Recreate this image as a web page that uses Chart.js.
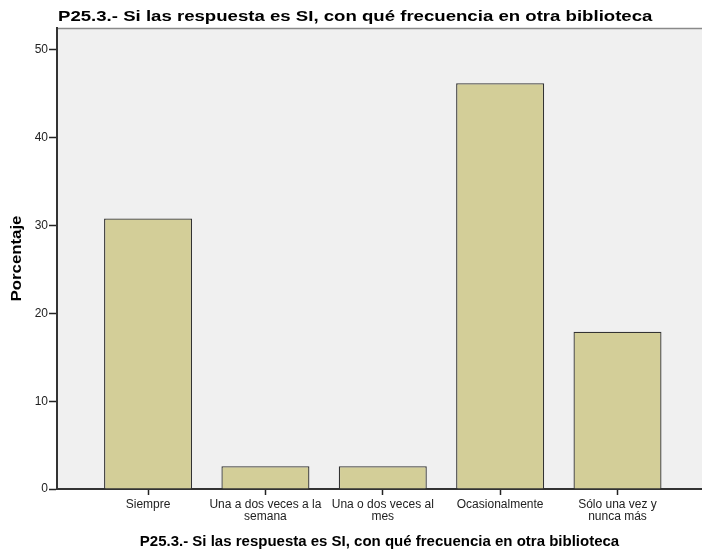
<!DOCTYPE html>
<html>
<head>
<meta charset="utf-8">
<script src="https://cdn.jsdelivr.net/npm/chart.js@4"></script>
<style>
  html, body { margin: 0; padding: 0; background: #fff; }
  #wrap { width: 702px; height: 554px; }
</style>
</head>
<body>
<div id="wrap"><canvas id="chart-frecuencia" width="702" height="554"></canvas></div>
<script>
// Frecuencia de uso de otra biblioteca (porcentaje de respuestas)
const categorias = [
    ['Siempre'],
    ['Una a dos veces a la', 'semana'],
    ['Una o dos veces al', 'mes'],
    ['Ocasionalmente'],
    ['Sólo una vez y', 'nunca más']
];
const porcentajes = [30.8, 2.6, 2.6, 46.2, 17.9];
const ticksY = [0, 10, 20, 30, 40, 50];

const titulo = 'P25.3.- Si las respuesta es SI, con qué frecuencia en otra biblioteca';
const tituloY = 'Porcentaje';
const fuente = "'Liberation Sans', Arial, sans-serif";

// Fondo gris del área de trazado y línea superior (antes de los ejes)
const fondoPlot = {
    id: 'fondoPlot',
    beforeDraw(chart) {
        const { ctx, chartArea: a } = chart;
        ctx.save();
        ctx.fillStyle = '#f0f0f0';
        ctx.fillRect(a.left, a.top, a.right - a.left, a.bottom - a.top);
        ctx.strokeStyle = '#8a8a8a';
        ctx.lineWidth = 1.5;
        ctx.beginPath();
        ctx.moveTo(a.left, a.top + 0.5);
        ctx.lineTo(a.right, a.top + 0.5);
        ctx.stroke();
        ctx.restore();
    }
};

// Título superior y título del eje Y, algo ensanchados como en SPSS
const titulosAnchos = {
    id: 'titulosAnchos',
    afterDraw(chart) {
        const { ctx, chartArea: a } = chart;
        ctx.save();
        ctx.fillStyle = '#000';
        ctx.textBaseline = 'alphabetic';

        ctx.font = 'bold 15px ' + fuente;
        ctx.translate(a.left + 1, 21);
        ctx.scale(1.24, 1);
        ctx.textAlign = 'left';
        ctx.fillText(titulo, 0, 0);
        ctx.restore();

        ctx.save();
        ctx.fillStyle = '#000';
        ctx.font = 'bold 14px ' + fuente;
        ctx.translate(17, (a.top + a.bottom) / 2);
        ctx.rotate(-Math.PI / 2);
        ctx.scale(1.2, 1);
        ctx.textAlign = 'center';
        ctx.textBaseline = 'middle';
        ctx.fillText(tituloY, 0, 0);
        ctx.restore();
    }
};

Chart.defaults.font.family = fuente;
Chart.defaults.color = '#222';

const ctxFrec = document.getElementById('chart-frecuencia').getContext('2d');
new Chart(ctxFrec, {
    type: 'bar',
    data: {
        datasets: [{
            label: tituloY,
            data: porcentajes.map((v, i) => ({ x: i, y: v })),
            backgroundColor: '#d3ce98',
            borderColor: '#333',
            borderWidth: 1.3,
            borderSkipped: 'bottom',
            categoryPercentage: 1,
            barPercentage: 0.75
        }]
    },
    options: {
        responsive: false,
        animation: false,
        layout: { padding: { top: 28, left: 0, right: 0, bottom: 0 } },
        plugins: {
            legend: { display: false },
            tooltip: { enabled: false },
            title: { display: false }
        },
        scales: {
            x: {
                type: 'linear',
                offset: false,
                min: -0.776,
                max: 4.72,
                afterBuildTicks(scale) {
                    scale.ticks = categorias.map((_, i) => ({ value: i }));
                },
                afterFit(scale) { scale.height = 65; },
                ticks: {
                    autoSkip: false,
                    maxRotation: 0,
                    padding: 3,
                    color: '#222',
                    font: { size: 12, lineHeight: 1.05 },
                    callback: (v) => categorias[v]
                },
                grid: {
                    offset: false,
                    drawOnChartArea: false,
                    drawTicks: true,
                    tickLength: 6,
                    tickWidth: 1.5,
                    tickColor: '#222'
                },
                border: { color: '#333', width: 2 },
                title: {
                    display: true,
                    text: titulo,
                    color: '#000',
                    font: { size: 15, weight: 'bold' },
                    padding: { top: 4, bottom: 3 }
                }
            },
            y: {
                min: 0,
                max: 52.5,
                afterBuildTicks(scale) {
                    scale.ticks = ticksY.map(v => ({ value: v }));
                },
                afterFit(scale) { scale.width = 57; },
                ticks: {
                    padding: 1,
                    color: '#222',
                    font: { size: 12 }
                },
                grid: {
                    drawOnChartArea: false,
                    drawTicks: true,
                    tickLength: 8,
                    tickWidth: 1.5,
                    tickColor: '#222'
                },
                border: { color: '#333', width: 2 },
                title: { display: false }
            }
        }
    },
    plugins: [fondoPlot, titulosAnchos]
});
</script>
</body>
</html>
